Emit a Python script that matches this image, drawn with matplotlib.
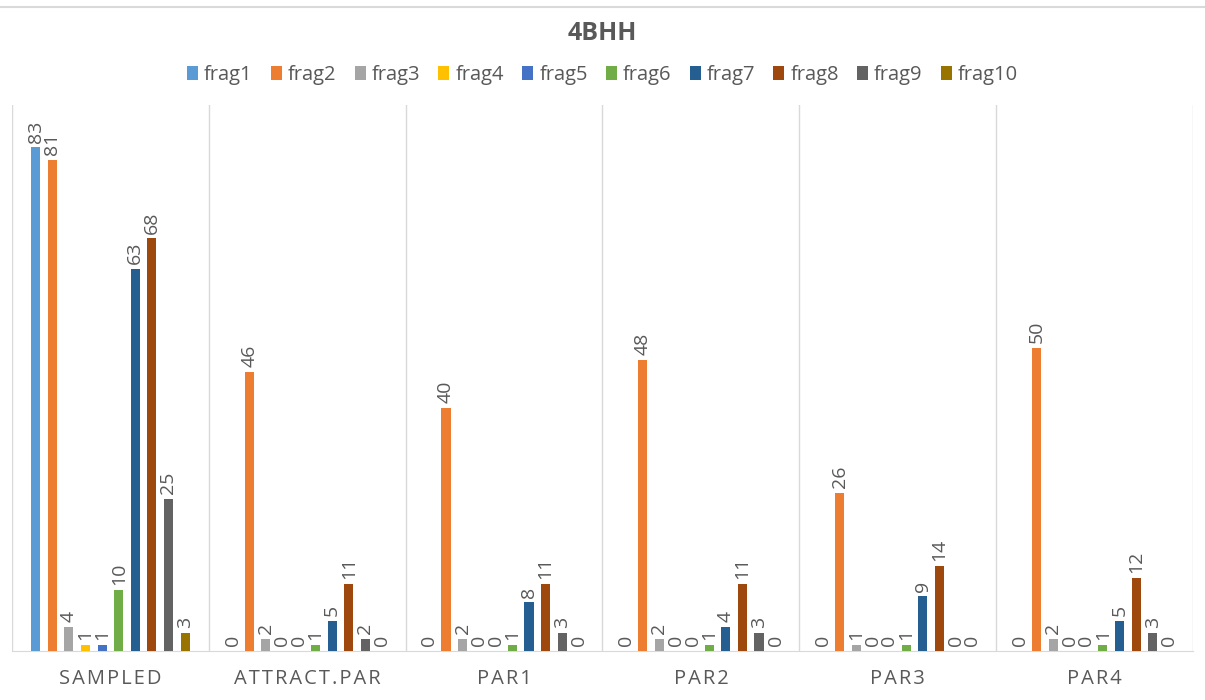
import numpy as np
import matplotlib.pyplot as plt

categories = ["SAMPLED", "ATTRACT.PAR", "PAR1", "PAR2", "PAR3", "PAR4"]
series = ["frag1", "frag2", "frag3", "frag4", "frag5",
          "frag6", "frag7", "frag8", "frag9", "frag10"]
values = [
    [83, 0, 0, 0, 0, 0],      # frag1
    [81, 46, 40, 48, 26, 50],  # frag2
    [4, 2, 2, 2, 1, 2],        # frag3
    [1, 0, 0, 0, 0, 0],        # frag4
    [1, 0, 0, 0, 0, 0],        # frag5
    [10, 1, 1, 1, 1, 1],       # frag6
    [63, 5, 8, 4, 9, 5],       # frag7
    [68, 11, 11, 11, 14, 12],  # frag8
    [25, 2, 3, 3, 0, 3],       # frag9
    [3, 0, 0, 0, 0, 0],        # frag10
]
colors = ["#5b9bd5", "#ed7d31", "#a5a5a5", "#ffc000", "#4472c4",
          "#70ad47", "#255e91", "#9e480e", "#636363", "#997300"]

plt.rcParams['font.family'] = ['Open Sans', 'DejaVu Sans']
txt = "#595959"

fig = plt.figure(figsize=(12.05, 7), dpi=100)
ax = fig.add_axes([12 / 1205, 49 / 700, 1181 / 1205, 546 / 700])

x = np.arange(len(categories))
step = 0.0843
width = 0.046
for i, (name, vals, c) in enumerate(zip(series, values, colors)):
    pos = x + (i - 4.5) * step
    ax.bar(pos, vals, width=width, color=c, label=name, zorder=3)
    for px, v in zip(pos, vals):
        ax.text(px, v + 0.8, str(v), rotation=90, ha="center", va="bottom",
                fontsize=14, color=txt)

ax.set_xlim(-0.5, len(categories) - 0.5)
ax.set_ylim(0, 90)
ax.set_yticks([])
ax.set_xticks(x)
ax.set_xticklabels(["\u200a".join(c) for c in categories], fontsize=14.5, color=txt)
ax.tick_params(axis="x", length=0, pad=13)
for b in np.arange(-0.5, len(categories), 1):
    ax.axvline(b, color="#d9d9d9", lw=1, zorder=1)
for s in ["top", "right", "left"]:
    ax.spines[s].set_visible(False)
ax.spines["bottom"].set_color("#d9d9d9")

fig.suptitle("4BHH", y=1 - 33 / 700, va="center", fontsize=18,
             fontweight="bold", color=txt)
fig.legend(loc="center", bbox_to_anchor=(0.5, 1 - 75 / 700), ncol=10,
           frameon=False, fontsize=14.5, handlelength=0.55, handleheight=0.75,
           handletextpad=0.3, columnspacing=0.9, labelcolor=txt)
fig.add_artist(plt.Line2D([0, 1], [1 - 7 / 700, 1 - 7 / 700],
                          color="#d9d9d9", lw=1.5))

fig.savefig("out.png", dpi=100, facecolor="white")
